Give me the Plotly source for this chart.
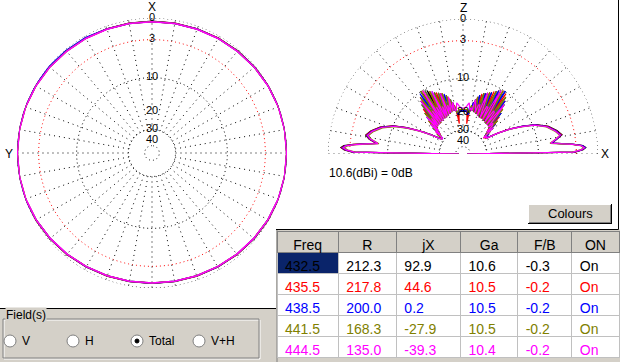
import numpy as np
import plotly.graph_objects as go

W, H = 620, 362
FONT = "Liberation Sans"

# ---------------- data ----------------
FREQS = [432.5, 435.5, 438.5, 441.5, 444.5]
R_OHM = [212.3, 217.8, 200.0, 168.3, 135.0]
JX_OHM = [92.9, 44.6, 0.2, -27.9, -39.3]
GAIN_DBI = [10.6, 10.5, 10.5, 10.5, 10.4]
FB_DB = [-0.3, -0.2, -0.2, -0.2, -0.2]
ON_STATE = ["On", "On", "On", "On", "On"]
TABLE_HEADERS = ["Freq", "R", "jX", "Ga", "F/B", "ON"]
SERIES_COLORS = ["#000000", "#ff0000", "#0000ff", "#808000", "#ff00ff"]
REF_GAIN_DBI = 10.6

LABEL_DB = [0, -3, -10, -20, -30, -40]
RING_DB = [0, -3, -10, -30, -50]
RING_COLORS = ["black", "red", "black", "black", "black"]
SPOKE_INNER_DB = -30

RADIO_LABELS = ["V", "H", "Total", "V+H"]
RADIO_SELECTED = "Total"

# azimuth pattern (deg from X, counter-clockwise towards Y), relative dB
AZ_DEG = [0, 10, 20, 30, 40, 50, 60, 70, 80, 90, 100, 110, 120, 130, 140, 150, 160, 170,
          180, 190, 200, 210, 220, 230, 240, 250, 260, 270, 280, 290, 300, 310, 320, 330, 340, 350]
AZ_432 = [-0.42, -0.41, -0.37, -0.30, -0.23, -0.14, -0.07, -0.02, -0.02, -0.02, -0.02, -0.03, -0.11, -0.22, -0.33, -0.44, -0.52, -0.58,
          -0.60, -0.58, -0.52, -0.44, -0.33, -0.22, -0.11, -0.03, -0.02, -0.02, -0.02, -0.02, -0.07, -0.14, -0.23, -0.30, -0.37, -0.41]
AZ_435 = [-0.44, -0.43, -0.39, -0.32, -0.25, -0.16, -0.09, -0.04, -0.03, -0.03, -0.03, -0.05, -0.13, -0.24, -0.35, -0.46, -0.54, -0.60,
          -0.62, -0.60, -0.54, -0.46, -0.35, -0.24, -0.13, -0.05, -0.03, -0.03, -0.03, -0.04, -0.09, -0.16, -0.25, -0.32, -0.39, -0.43]
AZ_438 = [-0.45, -0.44, -0.40, -0.23, -0.16, -0.07, -0.01, 0.0, 0.0, 0.0, 0.0, -0.01, -0.14, -0.25, -0.36, -0.47, -0.55, -0.61,
          -0.63, -0.61, -0.55, -0.47, -0.36, -0.25, -0.14, -0.06, -0.02, -0.02, -0.02, -0.03, -0.10, -0.17, -0.26, -0.33, -0.40, -0.44]
AZ_441 = [-0.46, -0.45, -0.41, -0.34, -0.27, -0.18, -0.11, -0.05, -0.04, -0.04, -0.04, -0.07, -0.15, -0.26, -0.37, -0.48, -0.56, -0.62,
          -0.64, -0.62, -0.56, -0.48, -0.37, -0.26, -0.15, -0.07, -0.04, -0.04, -0.04, -0.05, -0.11, -0.18, -0.27, -0.34, -0.41, -0.45]
AZ_444 = [-0.47, -0.46, -0.42, -0.35, -0.28, -0.19, -0.12, -0.06, -0.05, -0.05, -0.05, -0.08, -0.16, -0.27, -0.38, -0.49, -0.57, -0.63,
          -0.65, -0.63, -0.57, -0.49, -0.38, -0.27, -0.16, -0.08, -0.05, -0.05, -0.05, -0.06, -0.12, -0.19, -0.28, -0.35, -0.42, -0.46]

# elevation pattern (deg from +X horizon, through zenith to -X), relative dB
EL_DEG = [0, 1, 2, 3, 4, 5, 6, 7, 9, 11, 14, 18, 22, 25, 28, 31, 34, 36,
          38, 39.5, 41, 42.5, 44, 45.5, 47, 48.5, 50, 51.5, 53, 54.5, 56, 57.5, 59, 60.5,
          62, 63.5, 65, 66.5, 68, 69.5, 71, 72.5, 74, 75.5, 77, 78.5, 80, 81.5,
          83, 84.5, 86, 88, 90, 92, 94, 95.5, 97,
          98.5, 100, 101.5, 103, 104.5, 106, 107.5, 109, 110.5, 112, 113.5, 115, 116.5, 118, 119.5,
          121, 122.5, 124, 125.5, 127, 128.5, 130, 131.5, 133, 134.5, 136, 137.5, 139, 140.5, 142,
          144, 146, 149, 152, 155, 158, 162, 166, 169, 171, 173, 174, 175, 176, 177, 178, 179, 180]
EL_432 = [-60, -3.2, -2.0, -1.6, -2.0, -3.3, -5.3, -7.0, -6.0, -5.0, -5.7, -7.0, -9.3, -12.3, -15.8, -20.5, -26.5, -27.0,
          -24.2, -27.0, -20.9, -24.7, -17.8, -22.7, -15.1, -21.8, -12.8, -21.8, -11.0, -21.8, -9.9, -21.3, -10.3, -20.9,
          -11.0, -20.9, -11.8, -20.9, -12.3, -20.4, -12.8, -20.0, -13.6, -19.6, -15.1, -19.2, -17.4, -20.0,
          -22.0, -20.0, -19.8, -19.8, -19.8, -19.8, -19.8, -20.0, -22.0,
          -20.0, -18.3, -16.1, -19.2, -16.9, -13.6, -20.0, -16.4, -12.6, -20.4, -16.5, -11.8, -20.9, -16.0, -10.6,
          -21.3, -15.7, -9.9, -21.8, -16.4, -11.8, -21.8, -17.9, -15.1, -22.7, -20.8, -19.2, -25.8, -24.9, -24.2,
          -28.0, -27.0, -21.6, -17.2, -13.2, -10.0, -7.5, -6.0, -5.3, -6.0, -7.5, -5.5, -3.5, -2.1, -1.7, -2.2, -3.4, -60]
EL_435 = [-60, -3.3, -2.1, -1.7, -2.1, -3.4, -5.4, -7.1, -6.1, -5.1, -5.8, -7.1, -9.4, -12.4, -15.9, -20.6, -26.7, -27.5,
          -28.3, -22.7, -25.8, -19.2, -23.7, -16.4, -22.2, -13.9, -21.8, -11.8, -21.8, -10.3, -21.3, -10.1, -21.3, -10.6,
          -20.9, -11.3, -20.9, -12.0, -20.4, -12.6, -20.0, -13.1, -19.6, -14.2, -19.2, -16.1, -19.2, -18.9,
          -25.5, -19.2, -19.2, -19.3, -19.3, -19.3, -19.2, -19.2, -25.5,
          -20.0, -17.4, -17.7, -19.2, -14.2, -16.6, -20.0, -12.8, -16.5, -20.4, -12.0, -16.4, -20.9, -11.0, -15.8,
          -21.3, -10.1, -15.6, -21.8, -11.0, -16.8, -21.8, -13.9, -18.7, -22.7, -17.8, -22.0, -25.8, -22.7, -26.3,
          -28.2, -27.2, -21.8, -17.3, -13.3, -10.1, -7.6, -6.1, -5.4, -6.1, -7.6, -5.6, -3.6, -2.2, -1.8, -2.3, -3.5, -60]
EL_438 = [-60, -3.4, -2.2, -1.7, -2.1, -3.4, -5.4, -7.2, -6.1, -5.2, -5.9, -7.2, -9.5, -12.5, -16.0, -20.7, -26.8, -26.5,
          -24.2, -24.9, -25.8, -19.2, -20.8, -22.7, -15.1, -17.9, -21.8, -11.8, -16.4, -21.8, -9.9, -15.7, -21.3, -10.6,
          -16.0, -20.9, -11.8, -16.5, -20.4, -12.6, -16.4, -20.0, -13.6, -16.9, -19.2, -16.1, -18.3, -20.0,
          -21.0, -19.6, -19.5, -19.5, -19.5, -19.5, -19.5, -19.6, -21.0,
          -18.9, -18.3, -19.2, -15.1, -16.9, -19.6, -13.1, -16.4, -20.4, -12.3, -16.5, -20.9, -11.3, -16.0, -20.9,
          -10.3, -15.7, -21.3, -10.3, -16.4, -21.8, -12.8, -17.9, -22.2, -16.4, -20.8, -24.7, -20.9, -24.9, -28.3,
          -28.4, -27.3, -21.9, -17.4, -13.4, -10.2, -7.7, -6.2, -5.5, -6.2, -7.7, -5.7, -3.7, -2.3, -1.9, -2.4, -3.6, -60]
EL_441 = [-60, -3.6, -2.4, -1.9, -2.3, -3.6, -5.6, -7.4, -6.3, -5.4, -6.1, -7.4, -9.7, -12.7, -16.2, -21.0, -27.2, -27.0,
          -26.3, -22.7, -25.8, -22.0, -17.8, -22.7, -18.7, -13.9, -21.8, -16.8, -11.0, -21.8, -15.6, -10.1, -21.3, -15.8,
          -11.0, -20.9, -16.4, -12.0, -20.4, -16.5, -12.8, -20.0, -16.6, -14.2, -19.2, -17.7, -17.4, -20.0,
          -20.0, -18.9, -19.0, -19.0, -19.0, -19.0, -19.0, -18.9, -20.0,
          -20.0, -17.4, -19.2, -15.1, -19.6, -13.6, -20.0, -12.8, -20.4, -12.3, -20.9, -11.8, -20.9, -11.0, -20.9,
          -10.3, -21.3, -9.9, -21.8, -11.0, -21.8, -12.8, -21.8, -15.1, -22.7, -17.8, -24.7, -20.9, -27.0, -24.2,
          -28.7, -27.7, -22.2, -17.7, -13.7, -10.5, -8.0, -6.5, -5.8, -6.5, -8.0, -6.0, -4.0, -2.6, -2.2, -2.7, -3.9, -60]
EL_444 = [-60, -3.5, -2.3, -1.8, -2.2, -3.5, -5.5, -7.3, -6.2, -5.3, -6.0, -7.3, -9.6, -12.6, -16.1, -20.9, -27.0, -26.0,
          -28.3, -24.9, -20.9, -24.7, -20.8, -19.6, -22.2, -17.9, -12.8, -21.8, -16.4, -16.1, -21.3, -15.7, -10.3, -20.9,
          -16.0, -16.1, -20.9, -16.5, -12.3, -20.4, -16.4, -16.6, -19.6, -16.9, -15.1, -19.2, -18.3, -18.9,
          -16.5, -17.2, -18.0, -18.4, -18.5, -18.4, -18.0, -17.2, -16.5,
          -18.9, -19.2, -16.1, -19.2, -14.2, -19.6, -16.6, -20.0, -12.6, -20.4, -16.5, -20.9, -11.3, -20.9, -15.8,
          -21.3, -10.1, -21.3, -16.1, -21.8, -11.8, -21.8, -17.9, -22.2, -16.4, -23.7, -19.2, -25.8, -22.7, -28.3,
          -28.5, -27.5, -22.0, -17.5, -13.5, -10.3, -7.8, -6.3, -5.6, -6.3, -7.8, -5.8, -3.8, -2.4, -2.0, -2.5, -3.7, -60]

AZ_SERIES = [AZ_432, AZ_435, AZ_438, AZ_441, AZ_444]
EL_SERIES = [EL_432, EL_435, EL_438, EL_441, EL_444]
for s in EL_SERIES:
    assert len(s) == len(EL_DEG), (len(s), len(EL_DEG))
for s in AZ_SERIES:
    assert len(s) == len(AZ_DEG)


def arrl(db):
    """ARRL log radial scale: radius factor 0.89 per 2 dB."""
    return 0.89 ** (-np.asarray(db, dtype=float) / 2.0)


def px(x):
    return x / W


def py(y):
    return 1 - y / H


fig = go.Figure()

# ---------- grids ----------
def add_grid(subplot, theta_max, spoke_max):
    th = np.arange(0, theta_max + 1, 1)
    for lvl, col in zip(RING_DB, RING_COLORS):
        fig.add_trace(go.Scatterpolar(
            r=np.full(th.shape, float(arrl(lvl))), theta=th, mode="lines", subplot=subplot,
            line=dict(color=col, width=1, dash="1px,3px"), hoverinfo="skip", showlegend=False))
    rt, tt = [], []
    for a in range(0, spoke_max + 1, 10):
        rt += [float(arrl(SPOKE_INNER_DB)), 1.0, None]
        tt += [a, a, None]
    fig.add_trace(go.Scatterpolar(
        r=rt, theta=tt, mode="lines", subplot=subplot,
        line=dict(color="black", width=1, dash="1px,4px"), hoverinfo="skip", showlegend=False))


add_grid("polar", 360, 350)
add_grid("polar2", 180, 180)

# ---------- patterns ----------
for s, col in zip(AZ_SERIES, SERIES_COLORS):
    fig.add_trace(go.Scatterpolar(
        r=arrl(s + s[:1]), theta=AZ_DEG + AZ_DEG[:1], mode="lines", subplot="polar",
        line=dict(color=col, width=1.5), hoverinfo="skip", showlegend=False))

for s, col in zip(EL_SERIES, SERIES_COLORS):
    fig.add_trace(go.Scatterpolar(
        r=arrl(s), theta=EL_DEG, mode="lines", subplot="polar2",
        line=dict(color=col, width=1.2), hoverinfo="skip", showlegend=False))

# ---------- scale labels ----------
lab_txt = [str(abs(v)) for v in LABEL_DB]
lab_font = dict(family=FONT, size=11, color="black")
fig.add_trace(go.Scatterpolar(
    r=arrl(LABEL_DB), theta=[0] * len(LABEL_DB), mode="text", text=lab_txt, subplot="polar",
    textfont=lab_font, cliponaxis=False, hoverinfo="skip", showlegend=False))
fig.add_trace(go.Scatterpolar(
    r=arrl(LABEL_DB), theta=[90] * len(LABEL_DB), mode="text", text=lab_txt, subplot="polar2",
    textfont=lab_font, cliponaxis=False, hoverinfo="skip", showlegend=False))

# ---------- table ----------
fmt = lambda arr: [f"{v:.1f}" for v in arr]
n = len(FREQS)
cell_fill = [["#0a246a"] + ["white"] * (n - 1)] + [["white"] * n for _ in range(5)]
fig.add_trace(go.Table(
    domain=dict(x=[px(277), px(619)], y=[py(358), py(231)]),
    columnwidth=[61, 58, 64, 57, 54, 47],
    header=dict(values=TABLE_HEADERS, fill_color="#d4d0c8", align="center", height=21,
                line=dict(color="#808080", width=1),
                font=dict(family=FONT, size=14, color="black")),
    cells=dict(values=[fmt(FREQS), fmt(R_OHM), fmt(JX_OHM), fmt(GAIN_DBI), fmt(FB_DB), ON_STATE],
               fill_color=cell_fill, align="left", height=21,
               line=dict(color="#c0c0c0", width=1),
               font=dict(family=FONT, size=14, color=[SERIES_COLORS] * 6)),
))

# ---------- window chrome ----------
shapes = []


def rect(x0, y0, x1, y1, fill=None, line=None, lw=1, layer="below"):
    shapes.append(dict(type="rect", xref="paper", yref="paper",
                       x0=px(x0), x1=px(x1), y0=py(y1), y1=py(y0),
                       fillcolor=fill or "rgba(0,0,0,0)",
                       line=dict(color=line or "rgba(0,0,0,0)", width=lw if line else 0),
                       layer=layer))


def seg(x0, y0, x1, y1, color, lw=1, layer="below"):
    shapes.append(dict(type="line", xref="paper", yref="paper",
                       x0=px(x0), x1=px(x1), y0=py(y0), y1=py(y1),
                       line=dict(color=color, width=lw), layer=layer))


def circ(cx, cy, r, fill, line, layer="above"):
    shapes.append(dict(type="circle", xref="paper", yref="paper",
                       x0=px(cx - r), x1=px(cx + r), y0=py(cy + r), y1=py(cy - r),
                       fillcolor=fill, line=dict(color=line, width=1), layer=layer))


# lower-left gray panel
rect(0, 309, 277, 362, fill="#d4d0c8")
seg(0, 308.5, 277, 308.5, "black")
# table frame
rect(276, 229.5, 620, 362, fill="#d4d0c8")
seg(276, 229.5, 618.5, 229.5, "black")
seg(618.5, 0, 618.5, 229.5, "black")
seg(277, 230, 277, 362, "#808080")
# group box
rect(4, 320, 260, 359, line="white")
rect(3, 319, 259, 358, line="#808080")
# Colours button
rect(528, 204, 612, 224, fill="#d4d0c8")
seg(528, 204.5, 611, 204.5, "white")
seg(528.5, 204, 528.5, 223, "white")
seg(528, 223.5, 612, 223.5, "black")
seg(611.5, 204, 611.5, 224, "black")
seg(529, 222.5, 611, 222.5, "#808080")
seg(610.5, 205, 610.5, 223, "#808080")

annotations = []


def text(x, y, s, size=12, anchor="left", color="black", bg=None):
    annotations.append(dict(x=px(x), y=py(y), xref="paper", yref="paper", text=s, showarrow=False,
                            xanchor=anchor, yanchor="middle",
                            font=dict(family=FONT, size=size, color=color),
                            bgcolor=bg, borderpad=0))


# axis letters just outside the 0 dB rings
text(152, 7.5, "X", size=12, anchor="center")
text(9, 154, "Y", size=12, anchor="center")
text(463, 8, "Z", size=12, anchor="center")
text(605, 154, "X", size=12, anchor="center")

text(328, 173, f"{REF_GAIN_DBI}(dBi) = 0dB", size=12)
text(570, 213.5, "Colours", size=13, anchor="center")
text(5, 315, "Field(s)", size=12, bg="#d4d0c8")

radio_cx = [10, 73, 137, 199]
for cx, lab in zip(radio_cx, RADIO_LABELS):
    circ(cx, 341, 6, "white", "#808080")
    if lab == RADIO_SELECTED:
        circ(cx, 341, 2, "black", "black")
    text(cx + 11, 341, lab, size=12)

fig.update_layout(
    width=W, height=H, margin=dict(l=0, r=0, t=0, b=0),
    paper_bgcolor="white", plot_bgcolor="white", showlegend=False,
    hovermode=False,
    shapes=shapes, annotations=annotations,
    polar=dict(
        domain=dict(x=[px(17), px(287)], y=[py(288), py(18)]),
        bgcolor="white",
        radialaxis=dict(range=[0, 1], visible=False),
        angularaxis=dict(rotation=90, direction="counterclockwise", visible=False),
    ),
    polar2=dict(
        domain=dict(x=[px(328), px(598)], y=[py(154), py(19)]),
        sector=[0, 180], bgcolor="white",
        radialaxis=dict(range=[0, 1], visible=False),
        angularaxis=dict(rotation=0, direction="counterclockwise", visible=False),
    ),
)

fig.write_html("out.html", config={"displayModeBar": False},
               post_script="document.body.style.margin='0';document.body.style.overflow='hidden';")
